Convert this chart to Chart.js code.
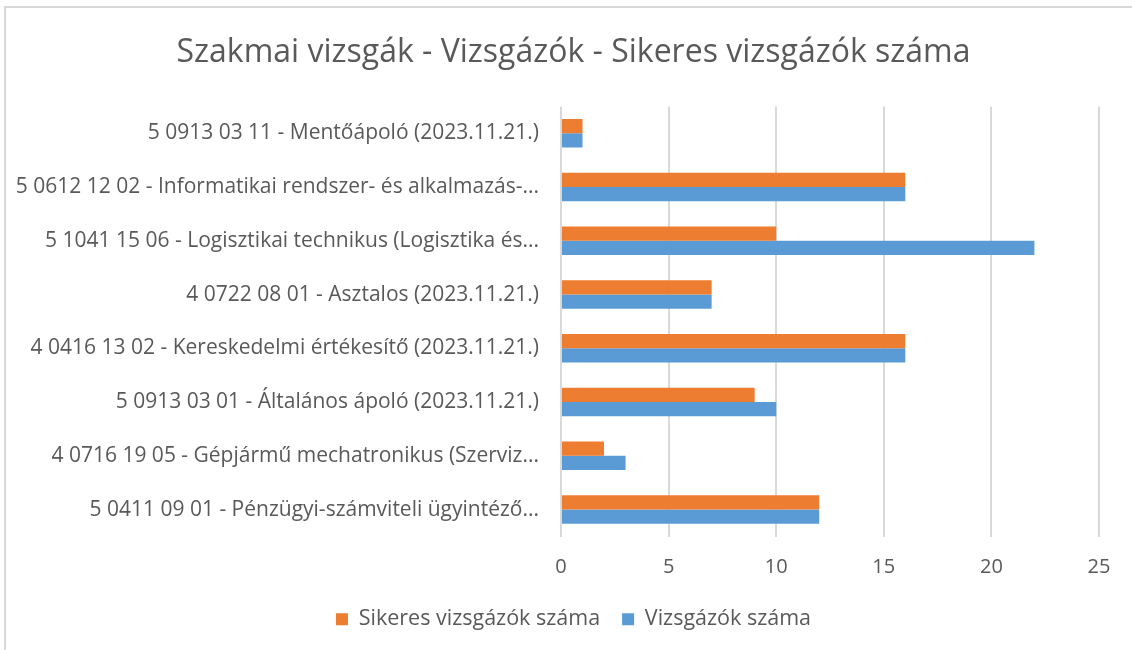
<!DOCTYPE html>
<html>
<head>
<meta charset="utf-8">
<script src="https://cdn.jsdelivr.net/npm/chart.js@4.4.0/dist/chart.umd.min.js"></script>
<style>
  body { margin: 0; background: #fff; }
  #wrap { position: relative; width: 1132px; height: 650px; overflow: hidden; }
  #frame { position: absolute; left: 4px; top: 6px; width: 1300px; height: 800px; border: 2px solid #d9d9d9; }
  #chart { position: absolute; left: 0; top: 0; }
</style>
</head>
<body>
<div id="wrap">
  <div id="frame"></div>
  <canvas id="chart" width="1132" height="650"></canvas>
</div>
<script>
var categories = [
  '5 0913 03 11 - Mentőápoló (2023.11.21.)',
  '5 0612 12 02 - Informatikai rendszer- és alkalmazás-...',
  '5 1041 15 06 - Logisztikai technikus (Logisztika és...',
  '4 0722 08 01 - Asztalos (2023.11.21.)',
  '4 0416 13 02 - Kereskedelmi értékesítő (2023.11.21.)',
  '5 0913 03 01 - Általános ápoló (2023.11.21.)',
  '4 0716 19 05 - Gépjármű mechatronikus (Szerviz...',
  '5 0411 09 01 - Pénzügyi-számviteli ügyintéző...'
];
var sikeres = [1, 16, 10, 7, 16, 9, 2, 12];
var vizsgazok = [1, 16, 22, 7, 16, 10, 3, 12];

var fontFamily = "'Open Sans', sans-serif";
var textColor = '#595959';

// long category labels reach past the left padding, so widen the label clip box
var labelRoom = {
  id: 'labelRoom',
  afterLayout: function(c) { c.scales.y.left = 0; }
};

var ctx = document.getElementById('chart');
var chart = new Chart(ctx, {
  type: 'bar',
  data: {
    labels: categories,
    datasets: [{
      label: 'Sikeres vizsgázók száma',
      data: sikeres,
      backgroundColor: '#ed7d31',
      categoryPercentage: 0.53,
      barPercentage: 1.0
    }, {
      label: 'Vizsgázók száma',
      data: vizsgazok,
      backgroundColor: '#5b9bd5',
      categoryPercentage: 0.53,
      barPercentage: 1.0
    }]
  },
  plugins: [labelRoom],
  options: {
    indexAxis: 'y',
    responsive: false,
    animation: false,
    layout: {
      padding: { left: 48, right: 33, top: 0, bottom: 10 }
    },
    plugins: {
      title: {
        display: true,
        text: 'Szakmai vizsgák - Vizsgázók - Sikeres vizsgázók száma',
        color: textColor,
        font: { family: fontFamily, size: 32, weight: 'normal' },
        padding: { top: 34, bottom: 34 }
      },
      legend: {
        position: 'bottom',
        labels: {
          color: textColor,
          font: { family: fontFamily, size: 21.5 },
          boxWidth: 12,
          boxHeight: 12,
          padding: 22
        }
      },
      tooltip: { enabled: false }
    },
    scales: {
      x: {
        min: 0,
        max: 25,
        ticks: {
          stepSize: 5,
          color: textColor,
          font: { family: fontFamily, size: 20 },
          padding: 19
        },
        grid: { color: '#d9d9d9', lineWidth: 2, drawTicks: false },
        border: { display: false },
        afterFit: function(scale) { scale.height = 50; }
      },
      y: {
        ticks: {
          color: textColor,
          font: { family: fontFamily, size: 21 },
          padding: 22
        },
        grid: { display: false, drawTicks: false },
        border: { display: false },
        afterFit: function(scale) { scale.width = 513; }
      }
    }
  }
});
</script>
</body>
</html>
